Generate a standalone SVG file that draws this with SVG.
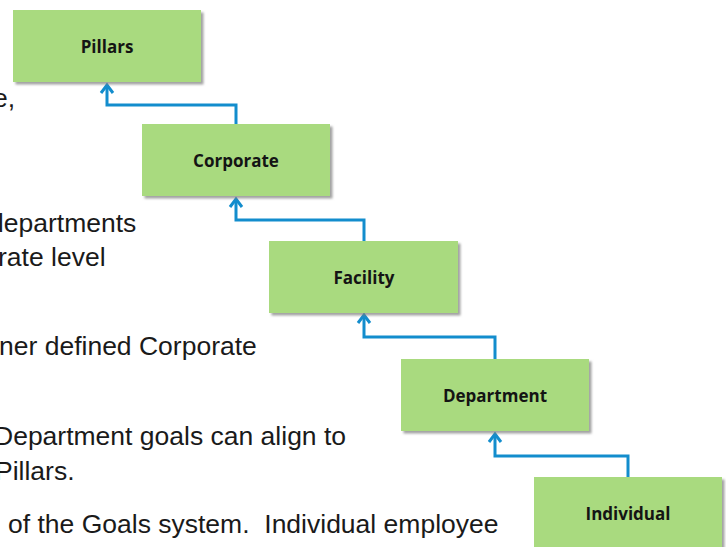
<svg xmlns="http://www.w3.org/2000/svg" width="726" height="547" viewBox="0 0 726 547">
  <style>
    .body { font-family: "Liberation Sans", Arial, sans-serif; font-size: 26.5px; fill: #1a1a1a; }
    .box { fill: #a9da7f; filter: url(#shadow); }
    .label { font-family: "Open Sans", "Liberation Sans", sans-serif; font-weight: bold; font-size: 17px; fill: #141414; text-anchor: middle; }
    .link { fill: none; stroke: #138dcd; stroke-width: 3; stroke-linejoin: miter; marker-end: url(#arrow); }
  </style>
  <defs>
    <filter id="shadow" x="-10%" y="-10%" width="125%" height="130%">
      <feDropShadow dx="2.5" dy="2.5" stdDeviation="1.2" flood-color="#7a7a7a" flood-opacity="0.7"/>
    </filter>
    <marker id="arrow" markerUnits="userSpaceOnUse" markerWidth="20" markerHeight="20" viewBox="-12 -10 16 20" refX="0" refY="0" orient="auto">
      <path d="M-8,-6 L0,0 L-8,6" fill="none" stroke="#138dcd" stroke-width="3" stroke-linejoin="miter"/>
    </marker>
  </defs>

  <!-- body copy running behind the chart -->
  <g id="body-text" class="body">
    <text x="-7" y="107">e,</text>
    <text x="-11" y="232">departments</text>
    <text x="-2" y="266">rate level</text>
    <text x="-1" y="355">ner defined Corporate</text>
    <text x="-6" y="445">Department goals can align to</text>
    <text x="-5" y="480">Pillars.</text>
    <text x="8" y="533" xml:space="preserve">of the Goals system.  Individual employee</text>
  </g>

  <!-- connectors: each level points up to the one above -->
  <g id="connectors">
    <path class="link" d="M236,124 V105 H107 V85"/>
    <path class="link" d="M364,241 V220 H236 V199"/>
    <path class="link" d="M495,359 V337 H364 V315"/>
    <path class="link" d="M628,477 V456 H495 V434"/>
  </g>

  <g id="pillars">
    <rect class="box" x="13" y="10" width="188" height="72"/>
    <text class="label" x="107" y="53">Pillars</text>
  </g>
  <g id="corporate">
    <rect class="box" x="142" y="124" width="188" height="72"/>
    <text class="label" x="236" y="167">Corporate</text>
  </g>
  <g id="facility">
    <rect class="box" x="269" y="241" width="189" height="72"/>
    <text class="label" x="364" y="284">Facility</text>
  </g>
  <g id="department">
    <rect class="box" x="401" y="359" width="188" height="72"/>
    <text class="label" x="495" y="402">Department</text>
  </g>
  <g id="individual">
    <rect class="box" x="534" y="477" width="188" height="72"/>
    <text class="label" x="628" y="520">Individual</text>
  </g>
</svg>
